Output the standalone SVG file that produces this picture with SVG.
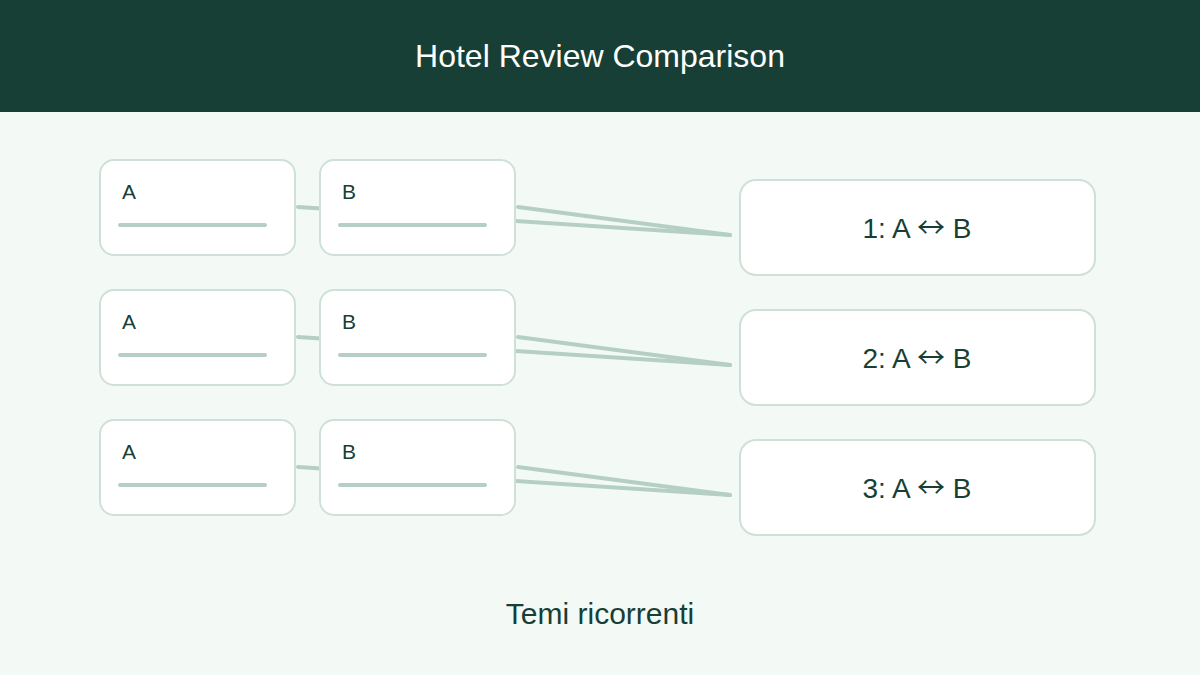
<svg xmlns="http://www.w3.org/2000/svg" width="1200" height="675" viewBox="0 0 1200 675">
<style>
.bg{fill:#f3faf6}
.hdr{fill:#173f35}
.title{font-family:"Liberation Sans",Arial,sans-serif;font-size:32px;fill:#ffffff;text-anchor:middle}
.card{fill:#ffffff;stroke:#cfe0d8;stroke-width:2}
.lbl{font-family:"Liberation Sans",Arial,sans-serif;font-size:21px;fill:#173f35}
.bar{stroke:#b5cfc4;stroke-width:4;stroke-linecap:round}
.res{font-family:"Liberation Sans",Arial,sans-serif;font-size:28px;fill:#173f35;text-anchor:middle}
.arr{font-family:"Noto Sans CJK SC",sans-serif}
.con{stroke:#b5cfc4;stroke-width:4;stroke-linecap:round;fill:none}
.foot{font-family:"Liberation Sans",Arial,sans-serif;font-size:30px;fill:#173f35;text-anchor:middle}
</style>
<rect class="bg" x="0" y="0" width="1200" height="675"/>
<rect class="hdr" x="0" y="0" width="1200" height="112"/>
<text class="title" x="600" y="67">Hotel Review Comparison</text>
<g id="connectors">
<line class="con" x1="298" y1="207" x2="730" y2="235"/>
<line class="con" x1="518" y1="207" x2="730" y2="235"/>
<line class="con" x1="298" y1="337" x2="730" y2="365"/>
<line class="con" x1="518" y1="337" x2="730" y2="365"/>
<line class="con" x1="298" y1="467" x2="730" y2="495"/>
<line class="con" x1="518" y1="467" x2="730" y2="495"/>
</g>
<g id="a1"><rect class="card" x="100" y="160" width="195" height="95" rx="14"/><text class="lbl" x="122" y="199">A</text><line class="bar" x1="120" y1="225" x2="265" y2="225"/></g>
<g id="b1"><rect class="card" x="320" y="160" width="195" height="95" rx="14"/><text class="lbl" x="342" y="199">B</text><line class="bar" x1="340" y1="225" x2="485" y2="225"/></g>
<g id="a2"><rect class="card" x="100" y="290" width="195" height="95" rx="14"/><text class="lbl" x="122" y="329">A</text><line class="bar" x1="120" y1="355" x2="265" y2="355"/></g>
<g id="b2"><rect class="card" x="320" y="290" width="195" height="95" rx="14"/><text class="lbl" x="342" y="329">B</text><line class="bar" x1="340" y1="355" x2="485" y2="355"/></g>
<g id="a3"><rect class="card" x="100" y="420" width="195" height="95" rx="14"/><text class="lbl" x="122" y="459">A</text><line class="bar" x1="120" y1="485" x2="265" y2="485"/></g>
<g id="b3"><rect class="card" x="320" y="420" width="195" height="95" rx="14"/><text class="lbl" x="342" y="459">B</text><line class="bar" x1="340" y1="485" x2="485" y2="485"/></g>
<g id="r1"><rect class="card" x="740" y="180" width="355" height="95" rx="16"/><text class="res" x="917" y="238">1: A <tspan class="arr">↔</tspan> B</text></g>
<g id="r2"><rect class="card" x="740" y="310" width="355" height="95" rx="16"/><text class="res" x="917" y="368">2: A <tspan class="arr">↔</tspan> B</text></g>
<g id="r3"><rect class="card" x="740" y="440" width="355" height="95" rx="16"/><text class="res" x="917" y="498">3: A <tspan class="arr">↔</tspan> B</text></g>
<text class="foot" x="600" y="624">Temi ricorrenti</text>
</svg>
